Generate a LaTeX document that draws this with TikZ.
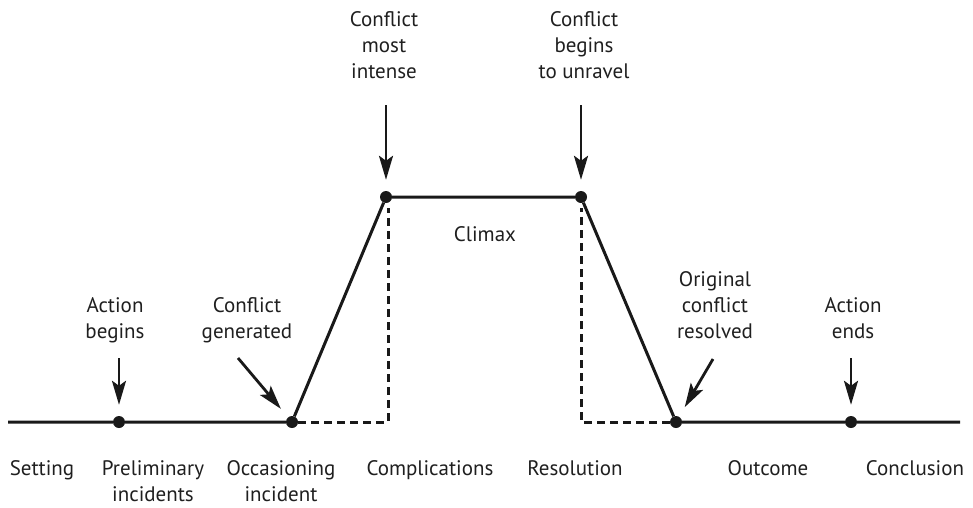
\documentclass[tikz,border=0pt]{standalone}
\usepackage{fontspec}
\setmainfont{PT Sans}
\usetikzlibrary{arrows.meta}
\begin{document}
\begin{tikzpicture}[x=1pt,y=-1pt,
  lbl/.style={font=\fontsize{21}{26}\selectfont, align=center, inner sep=0pt, text=black!88, anchor=north},
  dot/.style={circle, fill=black!90, inner sep=0pt, minimum size=12pt},
  mainline/.style={line width=3pt, draw=black!90},
  dashline/.style={line width=3pt, draw=black!90, dash pattern=on 8pt off 5pt},
  arr/.style={line width=2.8pt, draw=black!90, -{Stealth[length=24pt,width=14pt,inset=5pt]}, shorten >=11pt}]
\useasboundingbox (0,0) rectangle (973,507);
% points
\coordinate (L) at (8,422);
\coordinate (R) at (960,422);
\node[dot] (d1) at (119,422) {};
\node[dot] (d2) at (292,422) {};
\node[dot] (d3) at (386,197) {};
\node[dot] (d4) at (581,197) {};
\node[dot] (d5) at (676,422) {};
\node[dot] (d6) at (851,422) {};
\coordinate (c1) at (388,422);
\coordinate (c1t) at (388,208);
\coordinate (c2) at (581,422);
\coordinate (c2t) at (581,208);
% main line
\draw[mainline] (L) -- (d1) -- (d2) -- (d3) -- (d4) -- (d5) -- (d6) -- (R);
% dashed
\draw[dashline] (d2) -- (c1) -- (c1t);
\draw[dashline] (d5) -- (c2) -- (c2t);
% top labels
\node[lbl] (t1) at (115,297) {Action\\begins};
\node[lbl] (t2) at (247,297) {Conflict\\generated};
\node[lbl] (t3) at (384,11) {Conflict\\most\\intense};
\node[lbl] (t4) at (584,11) {Conflict\\begins\\to unravel};
\node[lbl] (t5) at (715,271) {Original\\conflict\\resolved};
\node[lbl] (t6) at (853,297) {Action\\ends};
\node[lbl] (clx) at (485,226) {Climax};
% arrow starts
\coordinate (a1) at (119,358);
\coordinate (a2) at (238,358);
\coordinate (a3) at (386,105);
\coordinate (a4) at (581,105);
\coordinate (a5) at (713,359);
\coordinate (a6) at (851,358);
\draw[arr] (a1) -- (d1);
\draw[arr] (a2) -- (d2);
\draw[arr] (a3) -- (d3);
\draw[arr] (a4) -- (d4);
\draw[arr] (a5) -- (d5);
\draw[arr] (a6) -- (d6);
% bottom labels
\node[lbl] (b1) at (42,460) {Setting};
\node[lbl] (b2) at (153,460) {Preliminary\\incidents};
\node[lbl] (b3) at (281,460) {Occasioning\\incident};
\node[lbl] (b4) at (430,460) {Complications};
\node[lbl] (b5) at (575,460) {Resolution};
\node[lbl] (b6) at (768,460) {Outcome};
\node[lbl] (b7) at (915,460) {Conclusion};
\end{tikzpicture}
\end{document}
